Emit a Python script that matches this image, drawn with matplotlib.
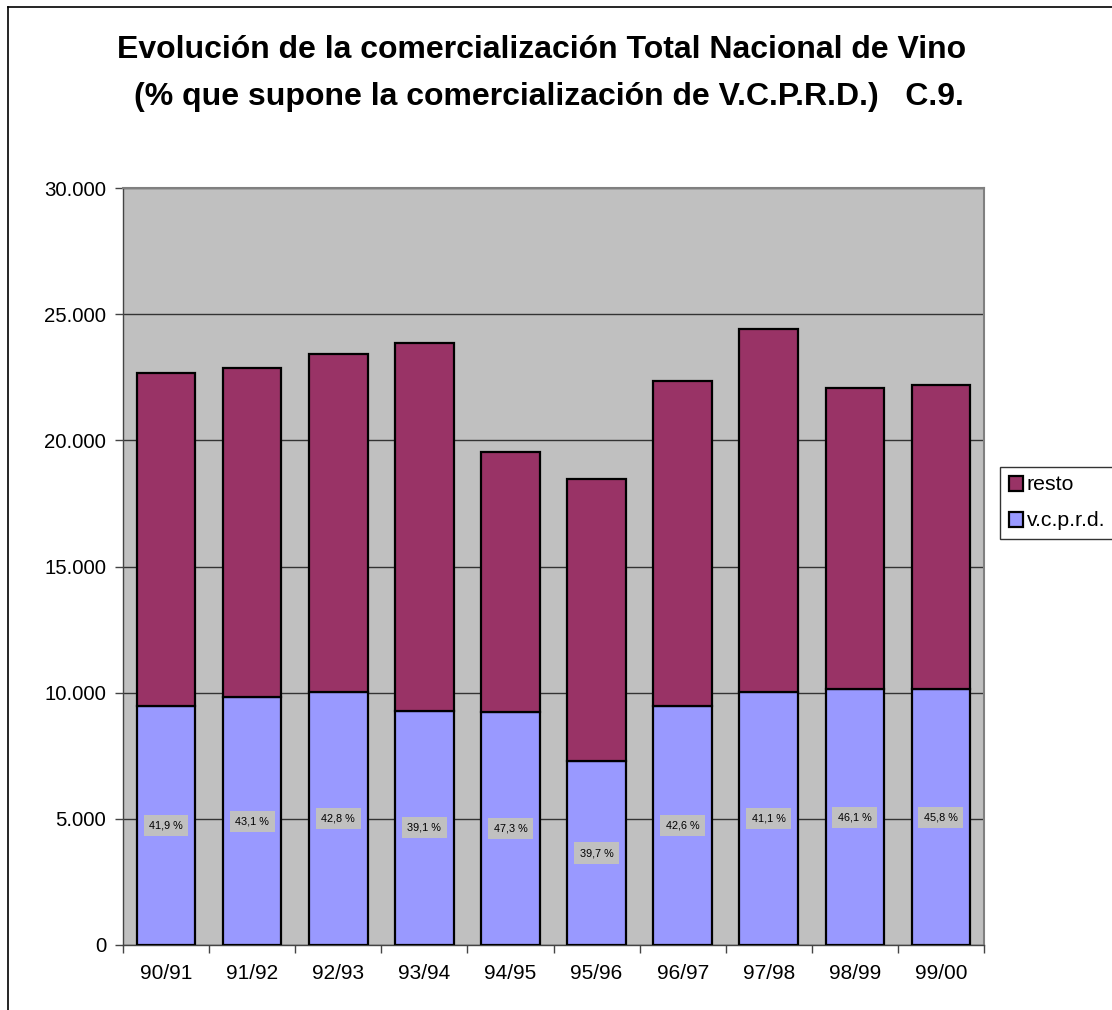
import numpy as np
import matplotlib
matplotlib.use('Agg')
import matplotlib.pyplot as plt
from matplotlib.lines import Line2D

plt.rcParams['font.family'] = ['Liberation Sans', 'DejaVu Sans']

# datos (miles)
campanas = ['90/91', '91/92', '92/93', '93/94', '94/95', '95/96', '96/97', '97/98', '98/99', '99/00']
total = np.array([22670, 22870, 23430, 23840, 19550, 18470, 22340, 24430, 22060, 22200])
vcprd = np.array([9460, 9820, 10020, 9290, 9220, 7290, 9480, 10020, 10130, 10130])
resto = total - vcprd
porcentajes = ['41,9 %', '43,1 %', '42,8 %', '39,1 %', '47,3 %', '39,7 %', '42,6 %', '41,1 %', '46,1 %', '45,8 %']

fig = plt.figure(figsize=(11.12, 10.10), dpi=100)
ax = fig.add_axes([123/1112, 1-945/1010, (984-123)/1112, (945-188)/1010])
ax.set_facecolor('#c0c0c0')

x = np.arange(len(campanas))
ax.bar(x, vcprd, width=0.68, color='#9999ff', edgecolor='black', linewidth=1.6, label='v.c.p.r.d.', zorder=3)
ax.bar(x, resto, width=0.68, bottom=vcprd, color='#993366', edgecolor='black', linewidth=1.6, label='resto', zorder=3)

for i in range(len(campanas)):
    ax.text(x[i], vcprd[i] / 2, porcentajes[i], ha='center', va='center', fontsize=7.8,
            bbox=dict(facecolor='#c0c0c0', edgecolor='none', pad=4), zorder=4)

ax.set_xlim(-0.5, len(campanas) - 0.5)
ax.set_ylim(0, 30000)
ax.set_yticks(np.arange(0, 30001, 5000))
ax.set_yticklabels(['0', '5.000', '10.000', '15.000', '20.000', '25.000', '30.000'], fontsize=14.7)
ax.yaxis.grid(True, color='#333333', linewidth=1.0, zorder=1)
ax.set_axisbelow(True)

ax.set_xticks(x)
ax.set_xticklabels(campanas, fontsize=15)
ax.tick_params(axis='x', which='major', length=0, pad=14)
ax.set_xticks(np.arange(-0.5, len(campanas)), minor=True)
ax.tick_params(axis='x', which='minor', length=6, width=1, direction='out', color='#444444')
ax.tick_params(axis='y', length=6, width=1, direction='out', color='#444444', pad=6)

for s in ['top', 'right']:
    ax.spines[s].set_color('#808080')
    ax.spines[s].set_linewidth(1.5)
for s in ['left', 'bottom']:
    ax.spines[s].set_color('#444444')
    ax.spines[s].set_linewidth(1.0)

fig.text(0.487, 1 - 50/1010, 'Evolución de la comercialización Total Nacional de Vino',
         ha='center', va='center', fontsize=23, fontweight='bold')
fig.text(0.494, 1 - 97/1010, '(% que supone la comercialización de V.C.P.R.D.)   C.9.',
         ha='center', va='center', fontsize=23, fontweight='bold')

h, l = ax.get_legend_handles_labels()
leg = fig.legend(h[::-1], l[::-1], loc='upper left', bbox_to_anchor=(1000/1112, 1 - 467/1010),
                 fontsize=15.3, frameon=True, fancybox=False, handlelength=0.7, handleheight=0.7,
                 handletextpad=0.15, borderpad=0.4, labelspacing=0.8, borderaxespad=0)
leg.get_frame().set_edgecolor('black')
leg.get_frame().set_linewidth(1.0)

# marco del grafico
fig.add_artist(Line2D([8/1112, 1], [1 - 7/1010, 1 - 7/1010], color='black', linewidth=1.2, transform=fig.transFigure))
fig.add_artist(Line2D([8/1112, 8/1112], [0, 1 - 7/1010], color='black', linewidth=1.2, transform=fig.transFigure))

fig.savefig('out.png', dpi=100)
